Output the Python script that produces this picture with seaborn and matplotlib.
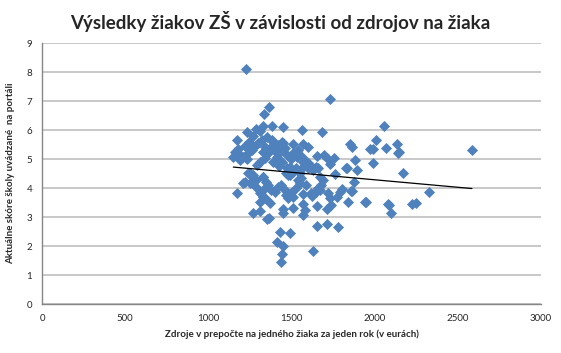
import numpy as np
import pandas as pd
import seaborn as sns
import matplotlib.pyplot as plt

# zdroje na ziaka (eur) a skore skoly, odcitane z grafu
zdroje = [
    1228, 1733, 1365, 1333, 1381, 1447, 1327, 1565, 1685, 2054,
    1234, 1287, 1313, 1170, 1271, 1351, 1301, 1387, 1441, 1511,
    1571, 1601, 1852, 1862, 2006, 1972, 1992, 2070, 2132, 1220,
    1250, 1160, 1150, 1190, 1655, 1757, 1884, 1992, 1828, 1892,
    1733, 1661, 2142, 2146, 2585, 2172, 1862, 2327, 1942, 2086,
    2100, 2222, 2248, 1174, 1210, 1271, 1311, 1311, 1351, 1367,
    1371, 1341, 1451, 1451, 1511, 1431, 1491, 1411, 1451, 1445,
    1437, 1631, 1655, 1712, 1778, 1571, 1581, 1655, 1712, 1737,
    1571, 1511, 1571, 1621, 1645, 1671, 1721, 1731, 1772, 1792,
    1802, 1842, 1858, 1876, 1946, 2082, 1832, 1762, 1239, 1269,
    1289, 1329, 1349, 1359, 1339, 1379, 1399, 1419, 1439, 1459,
    1469, 1479, 1499, 1529, 1549, 1539, 1559, 1489, 1469, 1509,
    1529, 1569, 1599, 1629, 1649, 1669, 1689, 1679, 1659, 1639,
    1619, 1589, 1309, 1329, 1289, 1249, 1219, 1210, 1240, 1260,
    1340, 1330, 1370, 1400, 1420, 1450, 1460, 1410, 1390, 1440,
    1340, 1310, 1290, 1695, 1713, 1571, 1601, 1531, 1511, 1551,
    1581, 1611, 1491, 1471, 1531, 1481, 1551, 1250, 1270, 1330,
    1180, 1245, 1280, 1320, 1360, 1395, 1430, 1470, 1500, 1540,
    1230, 1425, 1190, 1380,
]
skore = [
    8.09, 7.07, 6.78, 6.56, 6.15, 6.10, 6.14, 6.01, 5.93, 6.13,
    5.92, 6.02, 5.97, 5.66, 5.79, 5.77, 5.56, 5.59, 5.58, 5.51,
    5.51, 5.43, 5.51, 5.40, 5.67, 5.36, 5.36, 5.38, 5.51, 5.45,
    5.48, 5.25, 5.06, 5.14, 5.10, 5.04, 4.95, 4.87, 4.70, 4.61,
    4.83, 4.70, 5.22, 5.25, 5.31, 4.51, 3.89, 3.87, 3.51, 3.41,
    3.13, 3.45, 3.47, 3.82, 4.18, 3.13, 3.22, 3.51, 2.92, 2.95,
    3.47, 3.64, 3.26, 3.15, 3.30, 2.48, 2.46, 2.15, 2.00, 1.74,
    1.44, 1.84, 2.69, 2.76, 2.64, 3.07, 3.24, 3.38, 3.26, 3.41,
    3.45, 3.70, 3.78, 3.72, 3.87, 3.93, 3.82, 3.64, 3.70, 3.87,
    3.95, 3.53, 3.90, 4.20, 3.51, 3.44, 4.68, 4.47, 4.51, 4.45,
    4.28, 4.39, 4.22, 4.10, 3.99, 3.93, 3.87, 4.05, 4.10, 3.93,
    3.76, 3.64, 3.82, 3.99, 4.16, 4.28, 4.33, 4.45, 4.51, 4.56,
    4.68, 4.74, 4.68, 4.62, 4.74, 4.39, 4.28, 4.10, 3.99, 3.87,
    3.82, 4.10, 3.82, 3.70, 4.05, 4.16, 4.22, 5.08, 5.20, 5.31,
    5.43, 5.25, 5.37, 5.43, 5.48, 5.54, 5.37, 5.08, 4.91, 4.91,
    5.02, 4.91, 4.79, 5.13, 5.05, 4.91, 4.85, 5.08, 5.20, 5.14,
    4.97, 4.79, 4.74, 4.68, 4.62, 4.45, 4.51, 4.51, 4.39, 4.39,
    5.35, 5.60, 5.45, 5.65, 5.20, 5.30, 5.25, 5.15, 5.00, 5.30,
    5.00, 4.75, 4.95, 5.65,
]

x_ticks = [0, 500, 1000, 1500, 2000, 2500, 3000]
y_ticks = list(range(0, 10))

df = pd.DataFrame({'zdroje': zdroje, 'skore': skore})

sns.set_theme(style='white')
plt.rcParams['font.family'] = ['Lato', 'DejaVu Sans']

fig = plt.figure(figsize=(5.61, 3.53), dpi=100)
ax = fig.add_axes([0.0749, 0.1388, 0.8894, 0.7392])

sns.scatterplot(data=df, x='zdroje', y='skore', marker='D', s=32,
                color='#4F81BD', edgecolor='#4F81BD', linewidth=0, ax=ax, zorder=3)

# linearny trend cez rozsah dat
k, q = np.polyfit(df['zdroje'], df['skore'], 1)
trend = pd.DataFrame({'zdroje': [df['zdroje'].min(), df['zdroje'].max()]})
trend['skore'] = k * trend['zdroje'] + q
sns.lineplot(data=trend, x='zdroje', y='skore', color='black', linewidth=0.9, ax=ax, zorder=4)

ax.set_xlim(0, 3000)
ax.set_ylim(0, 9)
ax.set_xticks(x_ticks)
ax.set_yticks(y_ticks)
ax.yaxis.grid(True, color='#BFBFBF', linewidth=1.2)
ax.set_axisbelow(True)
for side in ['top', 'right']:
    ax.spines[side].set_visible(False)
for side in ['left', 'bottom']:
    ax.spines[side].set_color('#868686')
    ax.spines[side].set_linewidth(1.0)
ax.tick_params(axis='both', direction='out', length=4, width=0.8, color='#868686',
               labelsize=7, labelcolor='#262626', pad=3)

ax.set_xlabel('Zdroje v prepočte na jedného žiaka za jeden rok (v eurách)',
              fontsize=7, fontweight='bold', labelpad=5)
ax.set_ylabel('Aktuálne skóre školy uvádzané  na portáli',
              fontsize=7, fontweight='bold', labelpad=8)
fig.text(0.5, 0.94, 'Výsledky žiakov ZŠ v závislosti od zdrojov na žiaka',
         ha='center', va='center', fontsize=13.5, fontweight='bold')

plt.savefig('out.png', dpi=100)
plt.close()
